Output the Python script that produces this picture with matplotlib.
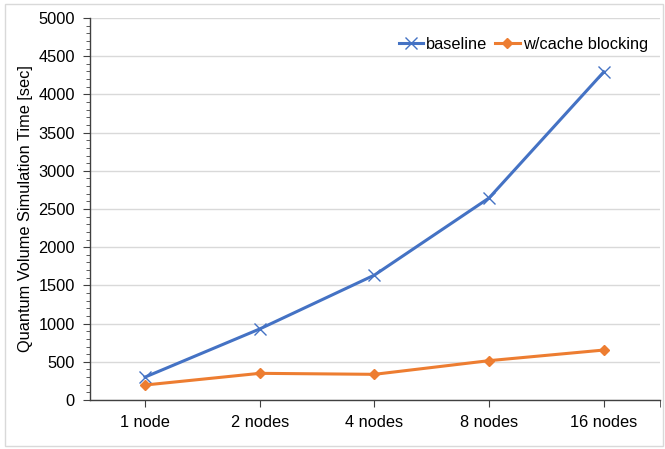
import matplotlib
matplotlib.use("Agg")
import matplotlib.pyplot as plt
from matplotlib.patches import Rectangle
from matplotlib.ticker import MultipleLocator

plt.rcParams['font.family'] = ['Liberation Sans', 'DejaVu Sans']

nodes = ["1 node", "2 nodes", "4 nodes", "8 nodes", "16 nodes"]
baseline = [300, 930, 1635, 2645, 4295]
cache_blocking = [196, 349, 336, 515, 654]

fig = plt.figure(figsize=(6.65, 4.49), dpi=100)
ax = fig.add_axes([90 / 665, 49 / 449, 570 / 665, 382 / 449])

x = list(range(len(nodes)))
ax.plot(x, baseline, color="#4472C4", lw=2.2, marker="x", ms=8, mew=1.0,
        label="baseline", zorder=3)
ax.plot(x, cache_blocking, color="#ED7D31", lw=2.2, marker="D", ms=5,
        label="w/cache blocking", zorder=3)

ax.set_xlim(-0.48, 4.49)
ax.set_ylim(0, 5000)
ax.yaxis.set_major_locator(MultipleLocator(500))
ax.yaxis.set_minor_locator(MultipleLocator(100))
ax.set_xticks(x)
ax.set_xticklabels(nodes)
ax.set_xticks([4.49], minor=True)
ax.grid(axis="y", color="#D9D9D9", lw=1)
ax.set_axisbelow(True)

for s in ["top", "right"]:
    ax.spines[s].set_visible(False)
for s in ["left", "bottom"]:
    ax.spines[s].set_color("#404040")
    ax.spines[s].set_linewidth(1)

ax.tick_params(axis="y", which="major", length=5, color="#404040", labelsize=11.8, pad=6)
ax.tick_params(axis="y", which="minor", length=3, color="#404040")
ax.tick_params(axis="x", which="both", length=5, color="#404040", labelsize=11.8, pad=6)
ax.set_ylabel("Quantum Volume Simulation Time [sec]", fontsize=11.8, labelpad=4)

ax.legend(loc="upper right", ncol=2, frameon=False, fontsize=11.8,
          bbox_to_anchor=(1.002, 0.985), handlelength=1.5, handletextpad=0.2,
          columnspacing=0.45, borderpad=0.3)

fig.patches.append(Rectangle((5 / 665, 3 / 449), 658 / 665, 442 / 449,
                             transform=fig.transFigure, fill=False,
                             edgecolor="#D9D9D9", lw=1))

fig.savefig("out.png", dpi=100)
